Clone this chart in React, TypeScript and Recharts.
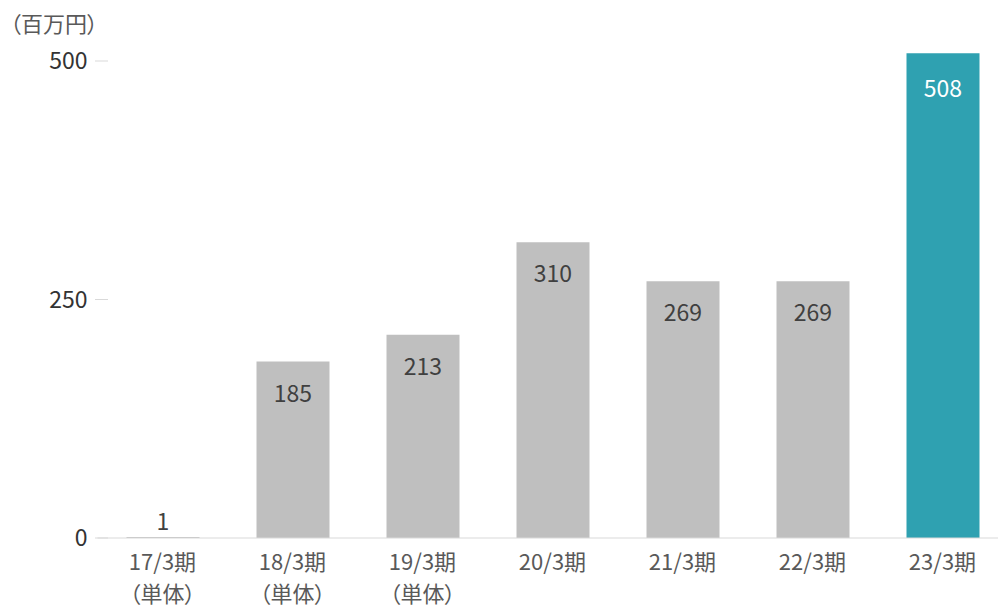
import { BarChart, Bar, XAxis, YAxis, Cell, LabelList } from "recharts";

const periods = ["17/3期", "18/3期", "19/3期", "20/3期", "21/3期", "22/3期", "23/3期"];
const notes = ["（単体）", "（単体）", "（単体）", "", "", "", ""];
const sales = [1, 185, 213, 310, 269, 269, 508];
const yTicks = [0, 250, 500];

const FONT = '"Noto Sans CJK JP", "Noto Sans", sans-serif';
const GRAY = "#BFBFBF";
const TEAL = "#2FA1B1";

const chartData = periods.map((p, i) => ({ name: p, note: notes[i], value: sales[i] }));

const YTick = (props: any) => {
  const { x, y, payload } = props;
  return (
    <g>
      <line x1={x - 2.5} x2={x + 10.5} y1={y} y2={y} stroke="#D9D9D9" strokeWidth={1} />
      <text x={x - 10} y={y + 8} textAnchor="end" fill="#333333" fontSize={23} fontFamily={FONT}>
        {payload.value}
      </text>
    </g>
  );
};

// two-line category label: period + optional note
const XTick = (props: any) => {
  const { x, y, payload } = props;
  const note = notes[payload.index];
  return (
    <text
      x={x}
      y={y + 32}
      textAnchor="middle"
      fill="#595959"
      fontSize={22}
      fontFamily={FONT}
      style={{ fontFeatureSettings: '"palt"' }}
    >
      <tspan x={x}>{payload.value}</tspan>
      {note && (
        <tspan x={x} dy={32}>
          {note}
        </tspan>
      )}
    </text>
  );
};

const BarLabel = (props: any) => {
  const { x, y, width, height, value, index } = props;
  const above = height < 30;
  const last = index === sales.length - 1;
  return (
    <text
      x={x + width / 2}
      y={above ? y - 17 : y + (last ? 34 : 30)}
      textAnchor="middle"
      dominantBaseline="central"
      fill={last ? "#FFFFFF" : "#404040"}
      fontSize={23}
      fontFamily={FONT}
    >
      {value}
    </text>
  );
};

const App = () => {
  return (
    <div
      style={{
        position: "absolute",
        left: 0,
        top: 0,
        width: 998,
        height: 608,
        overflow: "hidden",
        background: "#fff",
      }}
    >
      <div
        style={{
          position: "absolute",
          left: 10,
          top: 6,
          fontSize: 22,
          fontFamily: FONT,
          color: "#595959",
          fontFeatureSettings: '"palt"',
        }}
      >
        （百万円）
      </div>
      <BarChart
        width={1010}
        height={608}
        data={chartData}
        margin={{ top: 13.3, right: 2.5, bottom: 0, left: 0 }}
        barSize={73}
      >
        <XAxis
          dataKey="name"
          height={70}
          axisLine={{ stroke: "#D9D9D9" }}
          tickLine={false}
          tickSize={0}
          tickMargin={0}
          interval={0}
          tick={<XTick />}
        />
        <YAxis
          width={97.5}
          domain={[0, 550]}
          ticks={yTicks}
          axisLine={false}
          tickLine={false}
          tickSize={0}
          tickMargin={0}
          tick={<YTick />}
        />
        <Bar dataKey="value" isAnimationActive={false}>
          {chartData.map((d, i) => (
            <Cell key={d.name} fill={i === sales.length - 1 ? TEAL : GRAY} />
          ))}
          <LabelList dataKey="value" content={<BarLabel />} />
        </Bar>
      </BarChart>
    </div>
  );
};

export default App;
